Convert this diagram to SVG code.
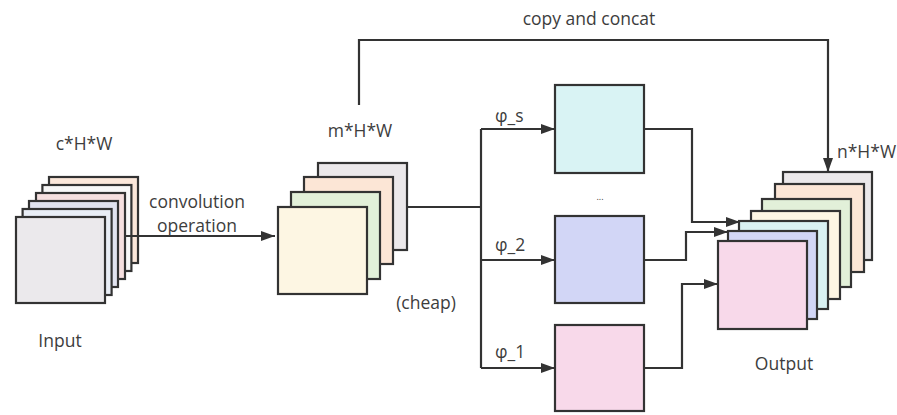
<svg xmlns="http://www.w3.org/2000/svg" width="897" height="415" viewBox="0 0 897 415">
<defs>
<style>
.l{stroke:#333;stroke-width:2.2;}
.c{fill:none;stroke:#333;stroke-width:2.2;}
.t{font-family:"Open Sans","Noto Sans","Liberation Sans",sans-serif;font-size:17.5px;fill:#3d3d3d;}
</style>
<marker id="ah" viewBox="0 0 14 10" markerWidth="14" markerHeight="10" refX="14" refY="5" orient="auto" markerUnits="userSpaceOnUse">
<path d="M0,0 L14,5 L0,10 z" fill="#333"/>
</marker>
</defs>
<rect width="897" height="415" fill="#fff"/>

<g id="input">
<rect class="l" x="49" y="177" width="89" height="86" fill="#fbe7da"/>
<rect class="l" x="42.4" y="185" width="89" height="86" fill="#f7f7f7"/>
<rect class="l" x="36" y="193" width="89" height="86" fill="#f5dfdf"/>
<rect class="l" x="29" y="201" width="89" height="86" fill="#e1e3ef"/>
<rect class="l" x="22.6" y="209" width="89" height="86" fill="#e9eef6"/>
<rect class="l" x="16" y="217" width="89" height="86" fill="#ebe9ec"/>
<text class="t" x="84" y="150" text-anchor="middle">c*H*W</text>
<text class="t" x="60" y="347" text-anchor="middle">Input</text>
</g>

<g id="intrinsic">
<rect class="l" x="318" y="163" width="89" height="87" fill="#ebe8ea"/>
<rect class="l" x="304" y="177" width="89" height="87" fill="#fce6d6"/>
<rect class="l" x="291" y="192" width="89" height="87" fill="#e2f0d9"/>
<rect class="l" x="278" y="207" width="89" height="87" fill="#fdf6e3"/>
<text class="t" x="360" y="137" text-anchor="middle">m*H*W</text>
</g>

<g id="phi_s">
<rect class="l" x="555" y="85" width="89" height="88" fill="#d9f3f4"/>
</g>
<g id="phi_2">
<rect class="l" x="555" y="216" width="89" height="87" fill="#d2d6f6"/>
</g>
<g id="phi_1">
<rect class="l" x="555" y="325" width="89" height="86" fill="#f8d9ea"/>
</g>
<text class="t" x="600" y="200" text-anchor="middle" style="font-size:9px">...</text>

<g id="output">
<rect class="l" x="783" y="172" width="89" height="88" fill="#ebe8ea"/>
<rect class="l" x="775" y="184" width="89" height="88" fill="#fce6d6"/>
<rect class="l" x="762" y="199" width="89" height="88" fill="#e2f0d9"/>
<rect class="l" x="751" y="211" width="89" height="88" fill="#fdf6e3"/>
<rect class="l" x="739" y="221" width="89" height="88" fill="#daf2f3"/>
<rect class="l" x="728" y="231" width="89" height="88" fill="#d2d6f6"/>
<rect class="l" x="718" y="241" width="89" height="88" fill="#f8d9ea"/>
<text class="t" x="837" y="158">n*H*W</text>
<text class="t" x="784" y="370" text-anchor="middle">Output</text>
</g>

<g id="connectors">
<line class="c" x1="125" y1="236" x2="275" y2="236" marker-end="url(#ah)"/>
<polyline class="c" points="407,207 481,207"/>
<polyline class="c" points="481,129 481,368"/>
<line class="c" x1="481" y1="129" x2="555" y2="129" marker-end="url(#ah)"/>
<line class="c" x1="481" y1="260" x2="555" y2="260" marker-end="url(#ah)"/>
<line class="c" x1="481" y1="368" x2="555" y2="368" marker-end="url(#ah)"/>
<polyline class="c" points="644,129 692,129 692,222 740,222" marker-end="url(#ah)"/>
<polyline class="c" points="644,260 686,260 686,232 728,232" marker-end="url(#ah)"/>
<polyline class="c" points="644,368 682,368 682,284 718,284" marker-end="url(#ah)"/>
<polyline class="c" points="359,105 359,40 828,40 828,172" marker-end="url(#ah)"/>
<text class="t" x="197" y="208" text-anchor="middle">convolution</text>
<text class="t" x="197" y="232" text-anchor="middle">operation</text>
<text class="t" x="426" y="309" text-anchor="middle">(cheap)</text>
<text class="t" x="589" y="25" text-anchor="middle">copy and concat</text>
<text class="t" x="495" y="122">φ_s</text>
<text class="t" x="495" y="251">φ_2</text>
<text class="t" x="495" y="358">φ_1</text>
</g>
</svg>
